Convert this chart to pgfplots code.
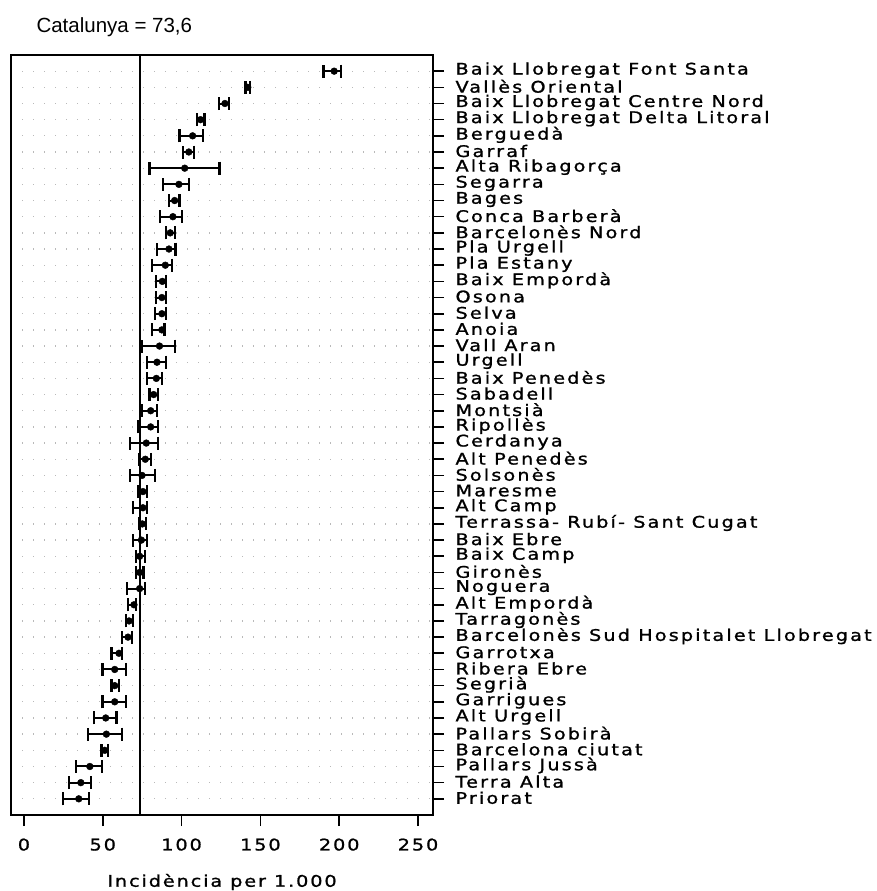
\documentclass[border=0pt]{standalone}
\usepackage{pgfplots}
\pgfplotsset{compat=1.18}
\usepackage{pgfplotstable}
\usepackage{fontspec}
\setmainfont{Liberation Sans}
\newfontfamily\lab[LetterSpace=12, FakeStretch=1.2, FakeBold=1.2]{DejaVu Sans}
\newfontfamily\labwide[LetterSpace=13.5, FakeStretch=1.2, FakeBold=1.2]{DejaVu Sans}
\newfontfamily\titfont{Liberation Sans}

\pgfplotstableread{
y m lo hi
46 196.8 190.0 201.0
45 142.0 140.5 143.5
44 127.5 123.5 130.0
43 112.0 110.0 114.5
42 107.0 98.7 113.5
41 104.6 100.8 107.8
40 102.0 79.7 124.0
39 98.3 88.2 104.6
38 95.6 92.0 98.7
37 94.5 86.5 100.4
36 92.8 90.3 95.6
35 92.0 84.6 96.2
34 89.7 81.2 94.1
33 87.8 84.0 90.3
32 87.5 84.0 90.3
31 87.5 83.3 90.3
30 87.5 81.2 89.2
29 86.0 75.1 96.0
28 84.4 78.0 90.3
27 84.0 78.0 87.5
26 82.3 79.7 85.0
25 80.4 75.1 84.6
24 80.4 72.4 85.0
23 77.6 67.5 85.0
22 77.0 73.0 80.4
21 74.9 67.1 83.3
20 75.5 72.4 78.3
19 75.5 69.2 78.3
18 75.1 73.0 77.6
17 74.5 69.2 78.3
16 73.4 70.9 76.6
15 73.4 70.9 75.9
14 73.4 65.6 76.6
13 69.8 66.0 71.3
12 66.7 64.6 69.2
11 66.0 62.4 68.8
10 60.3 55.5 62.4
9 57.6 49.8 64.6
8 57.6 55.5 60.3
7 57.6 49.8 64.6
6 51.9 44.7 58.7
5 52.3 40.7 62.4
4 51.3 49.2 53.4
3 41.8 32.9 49.6
2 36.1 28.5 42.8
1 34.8 24.9 41.3
}\data

\begin{document}
\begin{tikzpicture}
\begin{axis}[
  name=ax,
  scale only axis,
  width=422pt, height=760pt,
  xmin=-8.2, xmax=259.5,
  ymin=0, ymax=47,
  axis line style={line width=1.6pt, black},
  xtick={0,50,100,150,200,250},
  ytick={1,...,46},
  yticklabels={Priorat, Terra Alta, Pallars Jussà, Barcelona ciutat, Pallars Sobirà, Alt Urgell, Garrigues, Segrià, Ribera Ebre, Garrotxa, Barcelonès Sud Hospitalet Llobregat, Tarragonès, Alt Empordà, Noguera, Gironès, Baix Camp, Baix Ebre, Terrassa- Rubí- Sant Cugat, Alt Camp, Maresme, Solsonès, Alt Penedès, Cerdanya, Ripollès, Montsià, Sabadell, Baix Penedès, Urgell, Vall Aran, Anoia, Selva, Osona, Baix Empordà, Pla Estany, Pla Urgell, Barcelonès Nord, Conca Barberà, Bages, Segarra, Alta Ribagorça, Garraf, Berguedà, Baix Llobregat Delta Litoral, Baix Llobregat Centre Nord, Vallès Oriental, Baix Llobregat Font Santa},
  ytick pos=right, yticklabel pos=right,
  xtick pos=bottom,
  tick align=outside,
  major tick length=11pt,
  every tick/.style={line width=1.6pt, black},
  ymajorgrids,
  major grid style={gray!55, line width=1.3pt, dash pattern=on 1.3pt off 9.7pt},
  /pgf/number format/assume math mode=true,
  xticklabel style={font=\lab\fontsize{16}{16}\selectfont, yshift=-9pt},
  yticklabel style={font=\labwide\fontsize{16}{16}\selectfont, anchor=west, xshift=8pt, yshift=1pt},
]
\addplot[black, line width=1.6pt] coordinates {(73.6,0) (73.6,47)};
\addplot[only marks, mark=*, mark size=3.4pt, black,
  error bars/.cd, x dir=both, x explicit,
  error bar style={line width=2pt, black},
  error mark options={black, mark size=6.5pt, line width=2.2pt, rotate=90}]
  table[x=m, y=y, x error plus expr=\thisrow{hi}-\thisrow{m}, x error minus expr=\thisrow{m}-\thisrow{lo}] {\data};
\end{axis}
\node[anchor=base west, xshift=22pt, yshift=22pt, font=\titfont\fontsize{20.5}{20.5}\selectfont] at (ax.north west) {Catalunya = 73,6};
\node[anchor=center, yshift=-67pt, font=\lab\fontsize{16}{16}\selectfont] at (ax.south) {Incidència per 1.000};
\pgfresetboundingbox
\path (ax.south west) ++(-11pt,-76pt) rectangle ++(877pt,891pt);
\end{tikzpicture}
\end{document}
